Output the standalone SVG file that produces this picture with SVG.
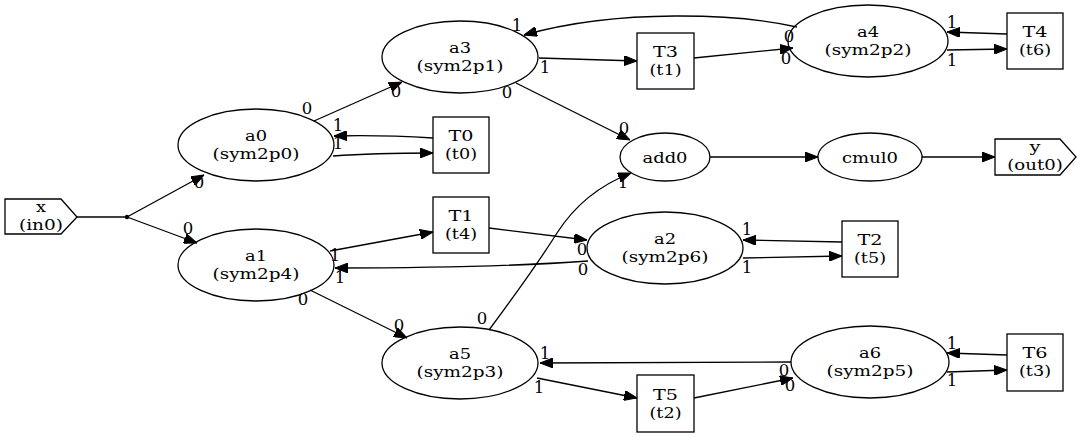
<svg xmlns="http://www.w3.org/2000/svg" width="1080" height="437" viewBox="0 0 1080 437">
<style>
.s{fill:none;stroke:#000;stroke-width:1.3}
text{font-family:"DejaVu Serif","Liberation Serif",serif;font-size:15.5px;text-anchor:middle;fill:#000}
.l{font-size:16.5px}
.e{fill:none;stroke:#000;stroke-width:1.3}
.a{marker-end:url(#ah)}
</style>
<defs>
<marker id="ah" viewBox="0 0 13 10" refX="13" refY="5" markerWidth="13" markerHeight="10" markerUnits="userSpaceOnUse" orient="auto">
<path d="M0,0 L13,5 L0,10 z" fill="#000" stroke="#000" stroke-width="1"/>
</marker>
</defs>
<rect width="1080" height="437" fill="#fff"/>
<g id="edges">
<path class="e" d="M77,217 L127,217"/>
<path class="e a" d="M127,217 L204,175"/>
<path class="e a" d="M127,217 L197,243"/>
<path class="e a" d="M314,121 L402,82"/>
<path class="e a" d="M333,156 C360,154 400,153 433,153"/>
<path class="e a" d="M433,138 C400,136 370,135 334,136"/>
<path class="e a" d="M539,58 L637,61"/>
<path class="e a" d="M694,58 L793,48"/>
<path class="e a" d="M797,27 C740,14 620,8 524,35"/>
<path class="e a" d="M947,50 L1007,49"/>
<path class="e a" d="M1007,34 L947,32"/>
<path class="e a" d="M516,83 L630,140"/>
<path class="e a" d="M710,157 L818,157"/>
<path class="e a" d="M922,157 L995,157"/>
<path class="e a" d="M330,251 L433,232"/>
<path class="e a" d="M489,228 L587,240"/>
<path class="e a" d="M588,261 C520,266 420,268 335,268"/>
<path class="e a" d="M310,290 L407,338"/>
<path class="e a" d="M489,330 C515,295 540,260 557,233 C575,205 600,185 631,173"/>
<path class="e a" d="M537,378 L637,398"/>
<path class="e a" d="M694,398 L793,378"/>
<path class="e a" d="M791,362 L540,363"/>
<path class="e a" d="M947,372 L1007,370"/>
<path class="e a" d="M1007,355 L947,353"/>
<path class="e a" d="M743,258 L842,256"/>
<path class="e a" d="M842,242 L743,240"/>
<g id="edge-labels" class="l">
<text class="l" x="199" y="188">0</text>
<text class="l" x="188" y="234">0</text>
<text class="l" x="307" y="114">0</text>
<text class="l" x="396" y="97">0</text>
<text class="l" x="338" y="131">1</text>
<text class="l" x="338" y="149">1</text>
<text class="l" x="517" y="31">1</text>
<text class="l" x="545" y="73">1</text>
<text class="l" x="507" y="98">0</text>
<text class="l" x="624" y="134">0</text>
<text class="l" x="623" y="188">1</text>
<text class="l" x="789" y="42">0</text>
<text class="l" x="786" y="64">0</text>
<text class="l" x="952" y="28">1</text>
<text class="l" x="952" y="66">1</text>
<text class="l" x="335" y="261">1</text>
<text class="l" x="340" y="283">1</text>
<text class="l" x="303" y="305">0</text>
<text class="l" x="399" y="331">0</text>
<text class="l" x="482" y="324">0</text>
<text class="l" x="582" y="255">0</text>
<text class="l" x="583" y="275">0</text>
<text class="l" x="545" y="359">1</text>
<text class="l" x="539" y="393">1</text>
<text class="l" x="747" y="235">1</text>
<text class="l" x="747" y="273">1</text>
<text class="l" x="952" y="349">1</text>
<text class="l" x="952" y="386">1</text>
<text class="l" x="784" y="376">0</text>
<text class="l" x="790" y="391">0</text>
</g>
</g>
<g id="x"><polygon class="s" points="5,199 61,199 77,217 61,234 5,234"/><text x="41" y="212" textLength="10" lengthAdjust="spacingAndGlyphs">x</text><text x="41" y="230" textLength="44" lengthAdjust="spacingAndGlyphs">(in0)</text></g>
<g id="pt"><circle cx="127" cy="217" r="2.2" fill="#000"/></g>
<g id="a0"><ellipse class="s" cx="256" cy="145" rx="78" ry="36"/><text x="256" y="141" textLength="22" lengthAdjust="spacingAndGlyphs">a0</text><text x="256" y="159" textLength="87" lengthAdjust="spacingAndGlyphs">(sym2p0)</text></g>
<g id="a1"><ellipse class="s" cx="256" cy="265" rx="78" ry="36"/><text x="256" y="261" textLength="22" lengthAdjust="spacingAndGlyphs">a1</text><text x="256" y="279" textLength="87" lengthAdjust="spacingAndGlyphs">(sym2p4)</text></g>
<g id="a3"><ellipse class="s" cx="460" cy="57" rx="78" ry="36"/><text x="460" y="53" textLength="22" lengthAdjust="spacingAndGlyphs">a3</text><text x="460" y="71" textLength="87" lengthAdjust="spacingAndGlyphs">(sym2p1)</text></g>
<g id="a5"><ellipse class="s" cx="460" cy="363" rx="78" ry="36"/><text x="460" y="359" textLength="22" lengthAdjust="spacingAndGlyphs">a5</text><text x="460" y="377" textLength="87" lengthAdjust="spacingAndGlyphs">(sym2p3)</text></g>
<g id="T0"><rect class="s" x="433" y="117" width="56" height="56"/><text x="461" y="141" textLength="25" lengthAdjust="spacingAndGlyphs">T0</text><text x="461" y="159" textLength="32" lengthAdjust="spacingAndGlyphs">(t0)</text></g>
<g id="T1"><rect class="s" x="433" y="197" width="56" height="56"/><text x="461" y="221" textLength="25" lengthAdjust="spacingAndGlyphs">T1</text><text x="461" y="239" textLength="32" lengthAdjust="spacingAndGlyphs">(t4)</text></g>
<g id="add0"><ellipse class="s" cx="665" cy="157" rx="45" ry="24"/><text x="665" y="162.5" textLength="45" lengthAdjust="spacingAndGlyphs">add0</text></g>
<g id="a2"><ellipse class="s" cx="665" cy="248" rx="78" ry="36"/><text x="665" y="244" textLength="22" lengthAdjust="spacingAndGlyphs">a2</text><text x="665" y="262" textLength="87" lengthAdjust="spacingAndGlyphs">(sym2p6)</text></g>
<g id="T3"><rect class="s" x="637" y="33" width="57" height="56"/><text x="665.5" y="57" textLength="25" lengthAdjust="spacingAndGlyphs">T3</text><text x="665.5" y="75" textLength="32" lengthAdjust="spacingAndGlyphs">(t1)</text></g>
<g id="T5"><rect class="s" x="637" y="375" width="57" height="57"/><text x="665.5" y="399.5" textLength="25" lengthAdjust="spacingAndGlyphs">T5</text><text x="665.5" y="417.5" textLength="32" lengthAdjust="spacingAndGlyphs">(t2)</text></g>
<g id="a4"><ellipse class="s" cx="868" cy="41" rx="80" ry="36"/><text x="868" y="37" textLength="22" lengthAdjust="spacingAndGlyphs">a4</text><text x="868" y="55" textLength="87" lengthAdjust="spacingAndGlyphs">(sym2p2)</text></g>
<g id="cmul0"><ellipse class="s" cx="870" cy="157" rx="52" ry="24"/><text x="870" y="162.5" textLength="56" lengthAdjust="spacingAndGlyphs">cmul0</text></g>
<g id="T2"><rect class="s" x="842" y="221" width="56" height="56"/><text x="870" y="245" textLength="25" lengthAdjust="spacingAndGlyphs">T2</text><text x="870" y="263" textLength="32" lengthAdjust="spacingAndGlyphs">(t5)</text></g>
<g id="a6"><ellipse class="s" cx="870" cy="362" rx="79" ry="36"/><text x="870" y="358" textLength="22" lengthAdjust="spacingAndGlyphs">a6</text><text x="870" y="376" textLength="87" lengthAdjust="spacingAndGlyphs">(sym2p5)</text></g>
<g id="T4"><rect class="s" x="1007" y="13" width="56" height="56"/><text x="1035" y="37" textLength="25" lengthAdjust="spacingAndGlyphs">T4</text><text x="1035" y="55" textLength="32" lengthAdjust="spacingAndGlyphs">(t6)</text></g>
<g id="T6"><rect class="s" x="1007" y="334" width="56" height="57"/><text x="1035" y="358" textLength="25" lengthAdjust="spacingAndGlyphs">T6</text><text x="1035" y="376" textLength="32" lengthAdjust="spacingAndGlyphs">(t3)</text></g>
<g id="y"><polygon class="s" points="995,139 1060,139 1076,157 1060,175 995,175"/><text x="1035" y="152" textLength="11" lengthAdjust="spacingAndGlyphs">y</text><text x="1035" y="170" textLength="55.5" lengthAdjust="spacingAndGlyphs">(out0)</text></g>
</svg>
